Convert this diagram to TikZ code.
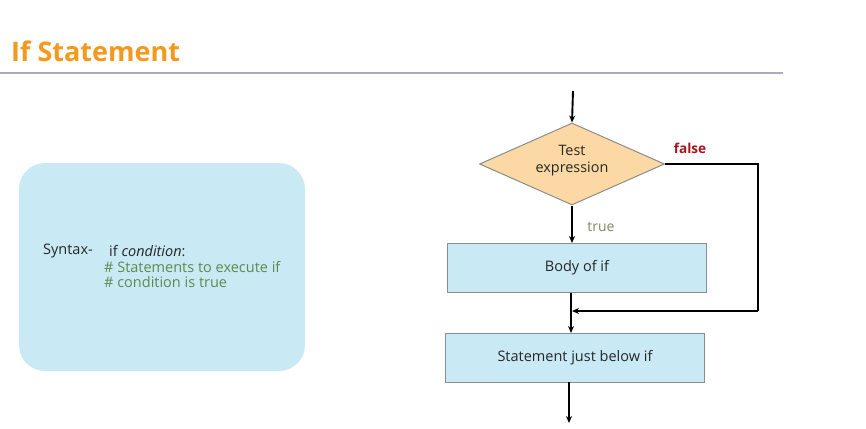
\documentclass[tikz,border=0pt]{standalone}
\usepackage{fontspec}
\setmainfont{Open Sans}
\usetikzlibrary{shapes.geometric,arrows.meta}
\definecolor{titleor}{HTML}{F39A1E}
\definecolor{rulec}{HTML}{A9ABC6}
\definecolor{boxblue}{HTML}{C9E9F5}
\definecolor{diafill}{HTML}{FCD9A4}
\definecolor{edgegray}{HTML}{8C8C8C}
\definecolor{cmtgreen}{HTML}{5E8A4E}
\definecolor{truec}{HTML}{7D8B62}
\definecolor{falsec}{HTML}{A8141C}
\definecolor{txt}{HTML}{262626}
\begin{document}
\begin{tikzpicture}[x=1pt,y=-1pt,
  flowbox/.style={draw=edgegray,line width=1pt,fill=boxblue,minimum width=259pt,minimum height=49pt,inner sep=0pt,text=txt,font=\fontsize{14.5}{16}\selectfont},
  testdia/.style={diamond,aspect=2.25,draw=edgegray,line width=1pt,fill=diafill,inner sep=0pt,minimum width=185pt,minimum height=82pt},
  dialbl/.style={inner sep=0pt,text=txt,align=center,font=\fontsize{14.4}{17}\selectfont},
  conn/.style={line width=1.9pt,-{Stealth[length=7pt,width=6pt]}},
  plain/.style={line width=1.9pt}]
\useasboundingbox (0,0) rectangle (866,428);
\node[anchor=west,text=titleor,font=\fontsize{27}{30}\selectfont\bfseries,inner sep=0pt] (title) at (11,51) {If Statement};
\draw[rulec,line width=1.5pt] (0,73) -- (783,73);
\node[fill=boxblue,rounded corners=26pt,minimum width=286pt,minimum height=208pt,inner sep=0pt] (syn) at (162,267) {};
\node[anchor=west,inner sep=0pt,text=txt,font=\fontsize{14.5}{16}\selectfont] (synlab) at (43,251) {Syntax-};
\node[anchor=west,inner sep=0pt,text=txt,font=\fontsize{14.5}{16}\selectfont] (ifc) at (109,251) {if \textit{condition}:};
\node[anchor=north west,inner sep=0pt,text=cmtgreen,align=left,font=\fontsize{14.5}{15.5}\selectfont] (cmt) at (104,261) {\# Statements to execute if\\\# condition is true};
\coordinate (start) at (573,91);
\node[testdia] (test) at (572,164) {};
\node[dialbl] (testlbl) at (572,161) {Test\\expression};
\node[flowbox] (body) at (577,268) {Body of if};
\node[flowbox] (next) at (575,357.5) {Statement just below if};
\coordinate (endp) at (569,423);
\coordinate (c1) at (758,164);
\coordinate (c2) at (758,311);
\coordinate (join) at (572,311);
\draw[conn] (start) -- (test.north);
\draw[conn] (test.south) -- (572,243);
\node[text=truec,font=\fontsize{14}{16}\selectfont,inner sep=0pt] (tl) at (601,227) {true};
\draw[plain] (test.east) -- (c1) -- (c2);
\draw[conn] (c2) -- (join);
\node[text=falsec,font=\fontsize{13.6}{16}\selectfont\bfseries,inner sep=0pt] (fl) at (690,148) {false};
\draw[conn] (571,293) -- (571,333);
\draw[conn] (569,382) -- (endp);
\end{tikzpicture}
\end{document}
